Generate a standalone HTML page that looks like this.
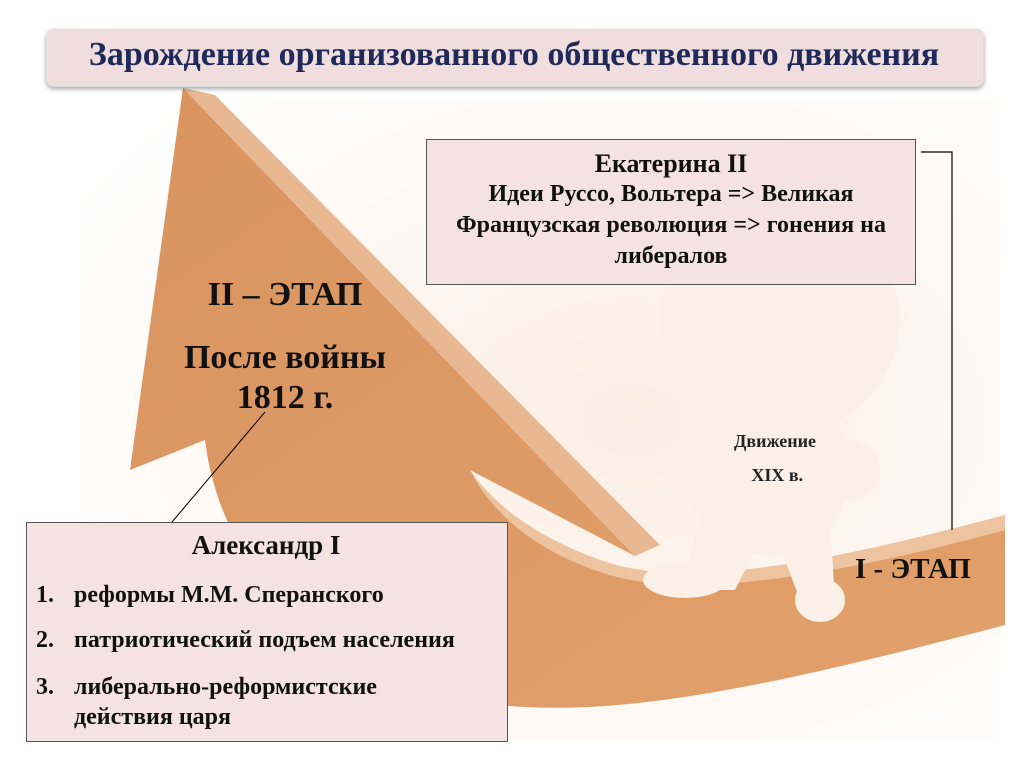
<!DOCTYPE html>
<html><head><meta charset="utf-8"><style>
body{margin:0;width:1024px;height:767px;overflow:hidden;background:#fff;font-family:"Liberation Serif",serif;}
.abs{position:absolute}
.li{position:absolute;left:36px;font-weight:bold;font-size:24px;line-height:30px;color:#111;white-space:nowrap}
.li span{position:absolute;left:38px;top:0}
</style></head><body>
<svg class="abs" style="left:0;top:0" width="1024" height="767">
<defs>
<linearGradient id="g1" x1="0" y1="0" x2="1" y2="1"><stop offset="0" stop-color="#d99460"/><stop offset="1" stop-color="#e2a06a"/></linearGradient>
<radialGradient id="bg" cx="0.6" cy="0.5" r="0.7"><stop offset="0" stop-color="#fbeee3"/><stop offset="1" stop-color="#ffffff"/></radialGradient>
</defs>
<rect x="80" y="100" width="920" height="640" fill="url(#bg)"/>
<path d="M183,88 L130,470 L205,440 C220,560 300,640 420,690 C560,730 720,700 1005,625 L1005,515 C820,565 680,590 600,560 C530,535 490,500 470,470 L635,556 Z" fill="url(#g1)"/>
<path d="M183,88 L215,95 L660,545 L635,556 Z" fill="#e8b892"/>
<path d="M470,470 C490,500 530,535 600,560 C680,590 820,565 1005,515 L1005,530 C820,580 680,600 600,572 C530,548 490,510 470,470 Z" fill="#eec3a0"/>
<g fill="#faf0e8">
<ellipse cx="780" cy="320" rx="120" ry="115"/>
<ellipse cx="770" cy="470" rx="80" ry="85"/>
<ellipse cx="700" cy="465" rx="22" ry="45"/>
<ellipse cx="850" cy="470" rx="30" ry="30"/>
<path d="M700,520 L770,520 L735,590 L680,590 Z"/>
<ellipse cx="685" cy="580" rx="42" ry="18"/>
<path d="M770,520 L830,520 L835,600 L800,600 Z"/>
<ellipse cx="820" cy="600" rx="25" ry="22"/>
</g>
<line x1="265" y1="412" x2="172" y2="522" stroke="#000" stroke-width="1"/>
<polyline points="921,152 952,152 952,530" fill="none" stroke="#000" stroke-width="1.2"/>
</svg>
<div class="abs" style="left:46px;top:29px;width:936px;height:56px;background:#f0dede;border-radius:8px;box-shadow:0 2px 5px rgba(0,0,0,.35);border:1px solid #ddd;"></div>
<div class="abs" style="left:46px;top:36px;width:936px;text-align:center;font-size:34px;font-weight:bold;color:#1f2a5a;white-space:nowrap">Зарождение организованного общественного движения</div>
<div class="abs" style="left:426px;top:139px;width:488px;height:144px;background:#f5e3e3;border:1px solid #555;text-align:center;font-size:24px;line-height:31px;color:#111;white-space:nowrap">
<div style="font-weight:bold;font-size:26px;margin-top:8px">Екатерина II</div>
<div style="font-weight:bold">Идеи Руссо, Вольтера =&gt; Великая<br>Французская революция =&gt; гонения на<br>либералов</div></div>
<div class="abs" style="left:160px;top:276px;width:250px;text-align:center;font-weight:bold;font-size:34px;color:#111;">II – ЭТАП</div>
<div class="abs" style="left:135px;top:338px;width:300px;text-align:center;font-weight:bold;font-size:34px;line-height:40px;color:#111;">После войны<br>1812 г.</div>
<div class="abs" style="left:690px;top:424px;width:170px;text-align:center;font-weight:bold;font-size:18px;line-height:34px;color:#222;">Движение<br>&nbsp;XIX в.</div>
<div class="abs" style="left:855px;top:553px;font-weight:bold;font-size:29px;color:#111;white-space:nowrap">I - ЭТАП</div>
<div class="abs" style="left:26px;top:522px;width:480px;height:218px;background:#f5e3e3;border:1px solid #555;"></div>
<div class="abs" style="left:26px;top:530px;width:480px;text-align:center;font-weight:bold;font-size:27px;color:#111;">Александр I</div>
<div class="li" style="top:580px">1.<span>реформы М.М. Сперанского</span></div>
<div class="li" style="top:625px">2.<span>патриотический подъем населения</span></div>
<div class="li" style="top:672px">3.<span>либерально-реформистские<br>действия царя</span></div>
</body></html>
